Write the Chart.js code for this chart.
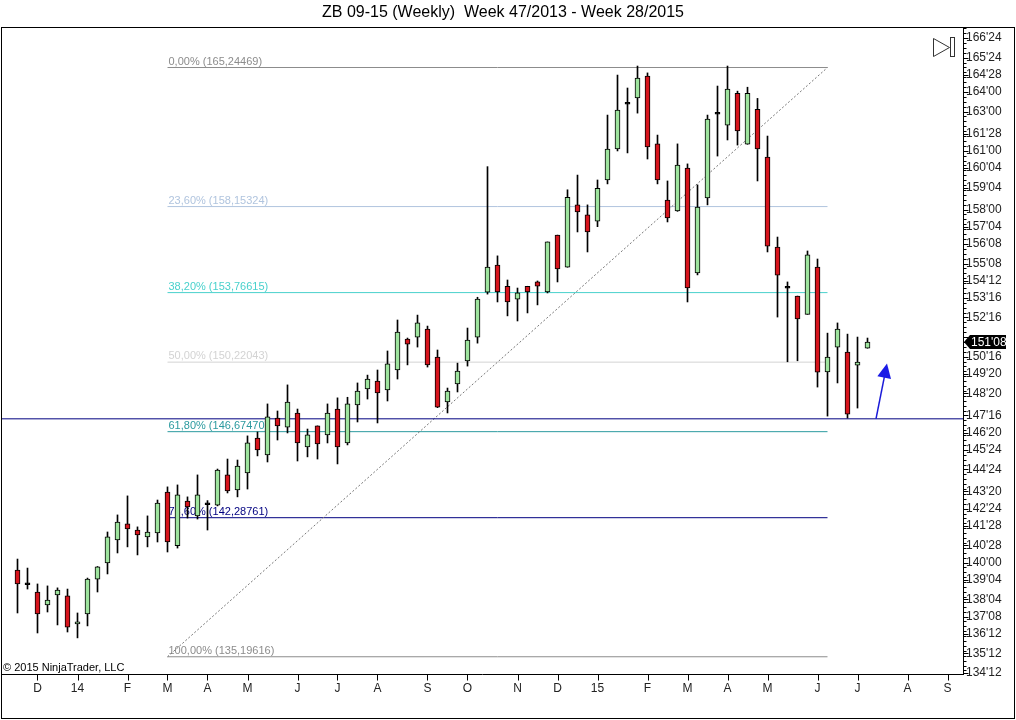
<!DOCTYPE html>
<html>
<head>
<meta charset="utf-8">
<title>ZB 09-15 (Weekly)</title>
<script src="https://cdn.jsdelivr.net/npm/chart.js@4.4.1/dist/chart.umd.min.js"></script>
<style>
  html, body { margin: 0; padding: 0; background: #fff; }
  #wrap { width: 1016px; height: 720px; }
</style>
</head>
<body>
<div id="wrap"><canvas id="grafica" width="1016" height="720"></canvas></div>
<script>
const FONT = "'Liberation Sans', Arial, sans-serif";

// semanas 47/2013 .. 28/2015 (86 velas)
const opens = [
  139.62, 138.87, 138.50, 137.84, 138.35, 138.30, 136.87, 137.38, 139.16, 139.98,
  141.15, 141.97, 141.66, 141.31, 141.51, 143.60, 140.86, 143.14, 142.38, 142.95,
  142.93, 144.47, 143.70, 144.57, 146.35, 145.49, 147.37, 146.91, 147.62, 145.90,
  146.97, 146.51, 147.83, 146.10, 148.04, 148.85, 149.26, 148.80, 149.82, 151.40,
  151.50, 151.91, 150.48, 148.19, 149.11, 150.28, 151.50, 153.79, 155.17, 154.09,
  153.43, 154.09, 154.31, 153.80, 156.70, 155.07, 158.24, 157.73, 157.41, 159.51,
  161.09, 163.37, 163.69, 164.81, 161.35, 158.49, 157.93, 160.12, 154.77, 158.59,
  162.86, 162.30, 163.93, 161.33, 163.11, 160.68, 156.09, 153.99, 153.59, 152.66,
  155.07, 149.72, 150.99, 150.74, 150.07, 150.93
];
const highs = [
  140.18, 139.72, 138.91, 138.81, 138.71, 138.65, 137.43, 139.21, 139.80, 141.56,
  142.43, 143.40, 141.82, 142.38, 143.19, 143.86, 143.96, 143.35, 144.47, 143.16,
  144.77, 145.28, 145.23, 146.46, 146.66, 148.09, 147.73, 149.06, 147.83, 146.81,
  146.97, 148.09, 148.40, 148.43, 149.16, 149.56, 149.82, 150.79, 152.37, 151.45,
  152.62, 152.06, 150.84, 148.90, 150.17, 151.96, 153.53, 160.19, 155.64, 154.41,
  154.00, 154.09, 154.36, 156.35, 156.70, 159.01, 159.76, 158.24, 159.51, 162.82,
  164.86, 164.20, 165.32, 164.97, 161.80, 159.46, 161.35, 160.33, 159.26, 162.82,
  164.30, 165.32, 164.04, 164.24, 163.67, 161.75, 156.60, 154.31, 153.59, 155.89,
  155.48, 151.70, 152.22, 151.65, 151.50, 151.45
];
const lows = [
  137.43, 138.65, 136.41, 137.48, 136.82, 136.46, 136.16, 136.77, 138.50, 139.42,
  140.49, 140.80, 140.39, 140.80, 141.05, 140.54, 140.74, 142.27, 142.22, 141.66,
  142.89, 143.55, 143.35, 143.75, 145.44, 145.13, 146.25, 146.61, 145.18, 145.39,
  145.28, 146.10, 145.03, 146.00, 147.17, 148.34, 147.12, 148.24, 149.36, 150.08,
  150.99, 149.97, 147.90, 147.63, 148.70, 150.02, 151.19, 153.69, 153.29, 152.58,
  152.32, 152.73, 153.14, 153.75, 154.31, 155.06, 156.86, 155.84, 157.13, 159.31,
  160.99, 160.89, 162.92, 160.58, 159.31, 157.37, 157.91, 153.29, 154.67, 158.24,
  160.73, 161.55, 161.29, 161.33, 159.46, 155.84, 152.52, 150.24, 150.29, 152.66,
  148.95, 147.47, 149.16, 147.37, 147.88, 150.93
];
const closes = [
  138.91, 138.87, 137.38, 138.09, 138.60, 136.71, 136.97, 139.16, 139.78, 141.31,
  142.07, 141.71, 141.41, 141.56, 143.04, 141.05, 143.45, 142.84, 143.45, 142.95,
  144.72, 143.65, 144.92, 146.10, 145.74, 147.43, 146.97, 148.19, 146.10, 146.51,
  146.05, 147.62, 145.90, 148.09, 148.75, 149.36, 148.65, 150.13, 151.76, 151.14,
  152.22, 150.08, 147.93, 148.75, 149.77, 151.35, 153.44, 155.07, 153.80, 153.29,
  153.75, 153.80, 154.09, 156.35, 154.98, 158.63, 157.88, 156.86, 159.08, 161.09,
  163.08, 163.37, 164.71, 161.19, 159.51, 157.57, 160.27, 154.00, 158.13, 162.62,
  162.86, 164.15, 162.01, 163.93, 161.09, 156.14, 154.66, 153.99, 152.43, 155.69,
  149.71, 150.48, 151.91, 147.57, 150.22, 151.25
];

// eje X: indice de semana donde empieza cada mes
const monthTicks = [2, 6, 11, 15, 19, 23, 28, 32, 36, 41, 45, 50, 54, 58, 63, 67, 71, 75, 80, 84, 89, 93];
const monthLabels = ["D", "14", "F", "M", "A", "M", "J", "J", "A", "S", "O", "N", "D", "15", "F", "M", "A", "M", "J", "J", "A", "S"];

// eje Y en 32avos
const priceTicks = [
  "166'24", "165'24", "164'28", "164'00", "163'00", "161'28", "161'00", "160'04", "159'04", "158'00",
  "157'04", "156'08", "155'08", "154'12", "153'16", "152'16", "151'16", "150'16", "149'20", "148'20",
  "147'16", "146'20", "145'24", "144'24", "143'20", "142'24", "141'28", "140'28", "140'00", "139'04",
  "138'04", "137'08", "136'12", "135'12", "134'12"
];

// Fibonacci
const fibPct = [0, 23.6, 38.2, 50, 61.8, 78.6, 100];
const fibVals = [165.24469, 158.15324, 153.76615, 150.22043, 146.67470, 142.28761, 135.19616];
const fibColors = ["#8c8c8c", "#b0c4de", "#48d1cc", "#d3d3d3", "#2b9a9f", "#000080", "#8c8c8c"];
const fibStart = 15;
const fibEnd = 81;

const supportLevel = 147.33;
const arrowFrom = [85.85, 147.33];
const arrowTo = [86.95, 150.15];

const toPrice = (s) => {
  const p = s.split("'");
  return parseInt(p[0], 10) + parseInt(p[1], 10) / 32;
};
const fmt32 = (v) => {
  let w = Math.floor(v);
  let t = Math.round((v - w) * 32);
  if (t === 32) { w += 1; t = 0; }
  return w + "'" + String(t).padStart(2, "0");
};
const fmtComa = (v, d) => v.toFixed(d).replace(".", ",");

const colorVela = (ctx) => {
  const i = ctx.dataIndex;
  if (closes[i] > opens[i]) return "#9ee49e";
  if (closes[i] < opens[i]) return "#d7141c";
  return "#000";
};

const velas = opens.map((o, i) => ({ x: i, y: [o, closes[i]] }));
const mechas = opens.map((o, i) => ({ x: i, y: [lows[i], highs[i]] }));

const datasets = [
  {
    type: "bar", label: "velas", data: velas,
    backgroundColor: colorVela, borderColor: "#000", borderWidth: 1, borderSkipped: false,
    barThickness: 5, minBarLength: 2, grouped: false
  },
  {
    type: "bar", label: "mechas", data: mechas,
    backgroundColor: "#000", borderWidth: 0, barThickness: 1, grouped: false
  },
  {
    type: "line", label: "soporte",
    data: [{ x: -2, y: supportLevel }, { x: 96, y: supportLevel }],
    borderColor: "#000080", borderWidth: 1, pointRadius: 0
  },
  {
    type: "line", label: "tendencia",
    data: [{ x: fibStart, y: fibVals[6] }, { x: fibEnd, y: fibVals[0] }],
    borderColor: "#777", borderWidth: 1, borderDash: [2, 2], pointRadius: 0
  }
];
fibVals.forEach((v, k) => {
  datasets.push({
    type: "line", label: "fib " + fibPct[k],
    data: [{ x: fibStart, y: v }, { x: fibEnd, y: v }],
    borderColor: fibColors[k], borderWidth: 1, pointRadius: 0
  });
});

const fibTextos = {
  id: "fibTextos",
  beforeDatasetsDraw(chart) {
    const { ctx, scales: { x, y } } = chart;
    ctx.save();
    ctx.font = "11px " + FONT;
    ctx.textAlign = "left";
    ctx.textBaseline = "alphabetic";
    fibVals.forEach((v, k) => {
      ctx.fillStyle = fibColors[k];
      const txt = fmtComa(fibPct[k], 2) + "% (" + fmtComa(v, 5) + ")";
      ctx.fillText(txt, x.getPixelForValue(fibStart) + 1, y.getPixelForValue(v) - 3);
    });
    ctx.restore();
  }
};

const flecha = {
  id: "flecha",
  afterDatasetsDraw(chart) {
    const { ctx, scales: { x, y } } = chart;
    const x0 = x.getPixelForValue(arrowFrom[0]), y0 = y.getPixelForValue(arrowFrom[1]);
    const x1 = x.getPixelForValue(arrowTo[0]), y1 = y.getPixelForValue(arrowTo[1]);
    const ang = Math.atan2(y1 - y0, x1 - x0);
    const len = 16, half = 0.45;
    ctx.save();
    ctx.strokeStyle = "#1a1ad8";
    ctx.fillStyle = "#1a1ae6";
    ctx.lineWidth = 1.5;
    ctx.beginPath();
    ctx.moveTo(x0, y0);
    ctx.lineTo(x1 - Math.cos(ang) * len * 0.8, y1 - Math.sin(ang) * len * 0.8);
    ctx.stroke();
    ctx.beginPath();
    ctx.moveTo(x1, y1);
    ctx.lineTo(x1 - len * Math.cos(ang - half), y1 - len * Math.sin(ang - half));
    ctx.lineTo(x1 - len * Math.cos(ang + half), y1 - len * Math.sin(ang + half));
    ctx.closePath();
    ctx.fill();
    ctx.restore();
  }
};

const marco = {
  id: "marco",
  afterDraw(chart) {
    const { ctx, chartArea: a, scales: { x, y } } = chart;
    ctx.save();

    // el marcador de precio tapa la etiqueta vecina
    const last = closes[closes.length - 1];
    const py = y.getPixelForValue(last);
    const px = Math.round(a.right) + 1;
    ctx.fillStyle = "#fff";
    ctx.fillRect(px + 2, py - 12, chart.width - px - 6, 20);

    // titulo
    ctx.fillStyle = "#000";
    ctx.font = "16px " + FONT;
    ctx.textAlign = "center";
    ctx.textBaseline = "middle";
    ctx.fillText("ZB 09-15 (Weekly)  Week 47/2013 - Week 28/2015", 503, 13);

    // marco exterior
    ctx.strokeStyle = "#000";
    ctx.lineWidth = 1;
    ctx.strokeRect(1.5, a.top + 0.5, chart.width - 3, chart.height - a.top - 2);
    ctx.beginPath();
    ctx.moveTo(Math.round(a.right) + 0.5, a.top);
    ctx.lineTo(Math.round(a.right) + 0.5, Math.round(a.bottom) + 1);
    ctx.moveTo(1, Math.round(a.bottom) + 0.5);
    ctx.lineTo(Math.round(a.right) + 1, Math.round(a.bottom) + 0.5);
    ctx.stroke();

    // marcas menores del eje Y
    ctx.beginPath();
    const r = Math.round(a.right) + 0.5;
    for (let v = Math.ceil(y.min * 4) / 4; v <= y.max; v += 0.25) {
      const ty = Math.round(y.getPixelForValue(v)) + 0.5;
      ctx.moveTo(r, ty);
      ctx.lineTo(r + 3, ty);
    }
    y.ticks.forEach((t) => {
      const ty = Math.round(y.getPixelForValue(t.value)) + 0.5;
      ctx.moveTo(r, ty);
      ctx.lineTo(r + 5, ty);
    });
    // marcas del eje X
    const b = Math.round(a.bottom) + 0.5;
    monthTicks.forEach((m) => {
      const tx = Math.round(x.getPixelForValue(m)) + 0.5;
      ctx.moveTo(tx, b);
      ctx.lineTo(tx, b + 6);
    });
    ctx.stroke();

    // copyright
    ctx.fillStyle = "#000";
    ctx.font = "11px " + FONT;
    ctx.textAlign = "left";
    ctx.textBaseline = "alphabetic";
    ctx.fillText("\u00A9 2015 NinjaTrader, LLC", 3, a.bottom - 3);

    // icono
    ctx.strokeStyle = "#333";
    ctx.beginPath();
    ctx.moveTo(933.5, 38.5);
    ctx.lineTo(949.5, 47.5);
    ctx.lineTo(933.5, 56.5);
    ctx.closePath();
    ctx.stroke();
    ctx.strokeRect(950.5, 37.5, 4, 19);

    // marcador de precio
    ctx.fillStyle = "#000";
    ctx.beginPath();
    ctx.moveTo(px, py);
    ctx.lineTo(px + 6, py - 7);
    ctx.lineTo(px + 42, py - 7);
    ctx.lineTo(px + 42, py + 7);
    ctx.lineTo(px + 6, py + 7);
    ctx.closePath();
    ctx.fill();
    ctx.fillStyle = "#fff";
    ctx.font = "12px " + FONT;
    ctx.textBaseline = "middle";
    ctx.fillText(fmt32(last), px + 7, py + 0.5);

    ctx.restore();
  }
};

const ctx = document.getElementById("grafica").getContext("2d");
window.myChart = new Chart(ctx, {
  type: "bar",
  data: { datasets: datasets },
  options: {
    responsive: false,
    animation: false,
    devicePixelRatio: 1,
    layout: { padding: { top: 27, left: 1, right: 1, bottom: 2 } },
    plugins: {
      legend: { display: false },
      tooltip: { enabled: false },
      title: { display: false }
    },
    scales: {
      x: {
        type: "linear",
        min: -1.65,
        max: 94.55,
        offset: false,
        afterBuildTicks: (s) => { s.ticks = monthTicks.map((v) => ({ value: v })); },
        afterFit: (s) => { s.height = 44; },
        grid: { display: false, drawTicks: false },
        border: { display: false },
        ticks: {
          autoSkip: false,
          maxRotation: 0,
          padding: 7,
          color: "#222",
          font: { family: FONT, size: 12 },
          callback: (v, i) => monthLabels[i]
        }
      },
      y: {
        position: "right",
        min: 134.318,
        max: 167.311,
        afterBuildTicks: (s) => {
          s.ticks = priceTicks.map((t) => ({ value: toPrice(t) })).sort((p, q) => p.value - q.value);
        },
        afterFit: (s) => { s.width = 52; },
        grid: { display: false, drawTicks: false },
        border: { display: false },
        ticks: {
          autoSkip: false,
          padding: 3,
          color: "#222",
          font: { family: FONT, size: 12 },
          callback: (v) => fmt32(v)
        }
      }
    }
  },
  plugins: [fibTextos, flecha, marco]
});
</script>
</body>
</html>
